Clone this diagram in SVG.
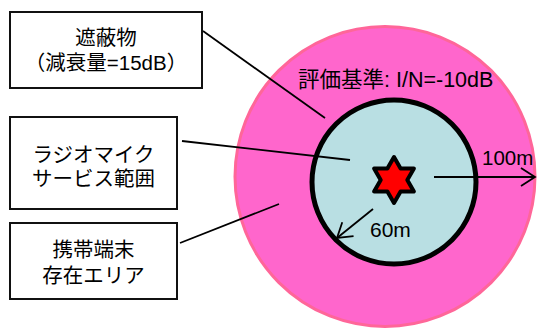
<svg xmlns="http://www.w3.org/2000/svg" width="537" height="329" viewBox="0 0 537 329">
<style>
text{font-family:"Liberation Sans","Noto Sans CJK JP",sans-serif;fill:#000;}
.lbl{font-size:20.5px;text-anchor:middle;}
.box{fill:#fff;stroke:#111;stroke-width:2;}
.lead{stroke:#000;stroke-width:1.8;fill:none;}
.arr{stroke:#000;stroke-width:1.8;fill:none;marker-end:url(#ah);}
</style>
<defs>
<marker id="ah" markerUnits="userSpaceOnUse" viewBox="-16 -11 18 22" refX="0" refY="0" markerWidth="18" markerHeight="22" orient="auto">
<path d="M-14,-9 L0,0 L-14,9" fill="none" stroke="#000" stroke-width="1.8"/>
</marker>
</defs>
<g id="area">
<circle cx="385" cy="176.5" r="150" fill="#FF66CC" stroke="#FF6699" stroke-width="3"/>
</g>
<g id="service">
<circle cx="394" cy="182" r="82" fill="#B9DFE3" stroke="#000" stroke-width="5"/>
</g>
<g id="star">
<path d="M394,157 L400.6,168.5 L413.9,168.5 L407.3,180 L413.9,191.5 L400.6,191.5 L394,203 L387.4,191.5 L374.1,191.5 L380.7,180 L374.1,168.5 L387.4,168.5 Z" fill="#FF0000" stroke="#000" stroke-width="4" stroke-linejoin="round"/>
</g>
<g id="criterion">
<text x="298" y="87" style="font-size:21.5px">評価基準: I/N=-10dB</text>
</g>
<g id="connectors">
<line class="lead" x1="203" y1="31" x2="325" y2="118"/>
<line class="lead" x1="182" y1="141" x2="350" y2="160"/>
<line class="lead" x1="180" y1="243" x2="279" y2="204"/>
<line class="arr" x1="434" y1="177" x2="535" y2="177"/>
<line class="arr" x1="373" y1="209" x2="337" y2="238"/>
</g>
<g id="label-100m"><text x="482" y="165" style="font-size:20.5px">100m</text></g>
<g id="label-60m"><text x="370" y="237" style="font-size:21px">60m</text></g>
<g id="box-shield">
<rect class="box" x="10" y="12" width="192" height="76"/>
<text class="lbl" x="106" y="45">遮蔽物</text>
<text class="lbl" x="106" y="70">（減衰量=15dB）</text>
</g>
<g id="box-service">
<rect class="box" x="10" y="117" width="167" height="92"/>
<text class="lbl" x="93.5" y="162">ラジオマイク</text>
<text class="lbl" x="93.5" y="186">サービス範囲</text>
</g>
<g id="box-terminal">
<rect class="box" x="10" y="223" width="167" height="76"/>
<text class="lbl" x="93.5" y="257">携帯端末</text>
<text class="lbl" x="93.5" y="283">存在エリア</text>
</g>
</svg>
